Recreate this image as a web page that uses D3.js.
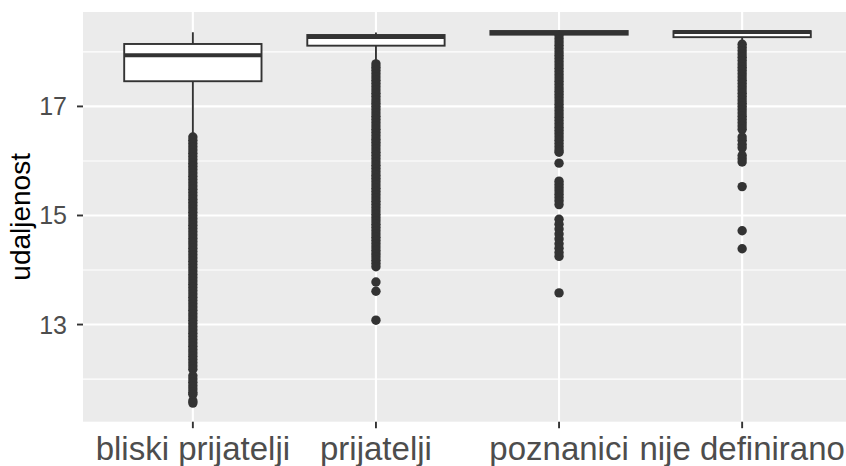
<!DOCTYPE html>
<html><head><meta charset="utf-8">
<script src="https://cdn.jsdelivr.net/npm/d3@7"></script>
<style>body{margin:0;background:#fff} svg{display:block}</style>
</head><body><svg id="c" width="846" height="466"></svg>
<script>
const categories = ["bliski prijatelji", "prijatelji", "poznanici", "nije definirano"];
const whiskerHigh = [18.36, 18.355, 18.39, 18.39];
const q3 = [18.145, 18.31, 18.383, 18.38];
const median = [17.938, 18.273, 18.35, 18.365];
const q1 = [17.462, 18.114, 18.316, 18.27];
const whiskerLow = [16.48, 17.83, 18.30, 18.20];

const outliersBliski = [16.44,16.38,16.32,16.26,16.20,16.14,16.08,16.02,15.96,15.90,15.84,15.78,15.72,15.66,15.60,15.54,15.48,15.42,15.36,15.30,15.24,15.18,15.12,15.06,15.00,14.94,14.88,14.82,14.76,14.70,14.64,14.58,14.52,14.46,14.40,14.34,14.28,14.22,14.16,14.10,14.04,13.98,13.92,13.86,13.80,13.74,13.68,13.62,13.56,13.50,13.44,13.38,13.32,13.26,13.20,13.14,13.08,13.02,12.96,12.90,12.84,12.78,12.72,12.66,12.60,12.54,12.48,12.42,12.36,12.30,12.24,12.18,12.06,12.00,11.94,11.88,11.82,11.76,11.72,11.60,11.56];
const outliersPrijatelji = [17.78,17.72,17.66,17.60,17.54,17.48,17.42,17.36,17.30,17.24,17.18,17.12,17.06,17.00,16.94,16.88,16.82,16.76,16.70,16.64,16.58,16.52,16.46,16.40,16.34,16.28,16.22,16.16,16.10,16.04,15.98,15.92,15.86,15.80,15.74,15.68,15.62,15.56,15.50,15.44,15.38,15.32,15.26,15.20,15.14,15.08,15.02,14.96,14.90,14.84,14.78,14.72,14.66,14.60,14.54,14.48,14.42,14.36,14.30,14.24,14.18,14.12,14.06,13.78,13.61,13.08];
const outliersPoznanici = [18.30,18.24,18.18,18.12,18.06,18.00,17.94,17.88,17.82,17.76,17.70,17.64,17.58,17.52,17.46,17.40,17.34,17.28,17.22,17.16,17.10,17.04,16.98,16.92,16.86,16.80,16.74,16.68,16.62,16.56,16.50,16.44,16.38,16.32,16.26,16.20,16.16,15.96,15.63,15.57,15.51,15.45,15.39,15.33,15.27,15.20,14.93,14.84,14.75,14.66,14.57,14.48,14.40,14.32,14.25,13.58];
const outliersNije = [18.14,18.08,18.02,17.96,17.90,17.84,17.78,17.72,17.66,17.60,17.54,17.48,17.42,17.36,17.30,17.24,17.18,17.12,17.06,17.00,16.94,16.88,16.82,16.76,16.70,16.64,16.58,16.44,16.38,16.30,16.24,16.10,16.04,15.98,15.53,14.72,14.39];
const outliers = [outliersBliski, outliersPrijatelji, outliersPoznanici, outliersNije];

const yTicks = [13, 15, 17];
const yMinorTicks = [12, 14, 16, 18];

const svg = d3.select("#c");
const panel = {left: 83, top: 12, right: 852, bottom: 421.7};

const allVals = outliers.flat().concat(whiskerHigh, whiskerLow);
const [vmin, vmax] = d3.extent(allVals);
const pad = (vmax - vmin) * 0.05;
const y = d3.scaleLinear().domain([vmin - pad, vmax + pad]).range([panel.bottom, panel.top]);
const x = d3.scalePoint().domain(categories).range([panel.left, panel.right]).padding(0.6);
const boxW = x.step() * 0.75;

const grey20 = "#333333";
const font = "Liberation Sans, Arial, sans-serif";

svg.append("rect").attr("x", panel.left).attr("y", panel.top)
  .attr("width", panel.right - panel.left).attr("height", panel.bottom - panel.top)
  .attr("fill", "#EBEBEB");

// minor grid
svg.append("g").selectAll("line").data(yMinorTicks).join("line")
  .attr("x1", panel.left).attr("x2", panel.right)
  .attr("y1", d => y(d)).attr("y2", d => y(d))
  .attr("stroke", "#fff").attr("stroke-width", 1.1);
// major grid
svg.append("g").selectAll("line").data(yTicks).join("line")
  .attr("x1", panel.left).attr("x2", panel.right)
  .attr("y1", d => y(d)).attr("y2", d => y(d))
  .attr("stroke", "#fff").attr("stroke-width", 2.1);
svg.append("g").selectAll("line").data(categories).join("line")
  .attr("x1", d => x(d)).attr("x2", d => x(d))
  .attr("y1", panel.top).attr("y2", panel.bottom)
  .attr("stroke", "#fff").attr("stroke-width", 2.1);

const groups = svg.append("g").selectAll("g").data(categories).join("g");

// outliers
groups.each(function(c, i) {
  d3.select(this).selectAll("circle").data(outliers[i]).join("circle")
    .attr("cx", x(c)).attr("cy", v => y(v)).attr("r", 4.7).attr("fill", grey20);
});
// whiskers
groups.append("line")
  .attr("x1", d => x(d)).attr("x2", d => x(d))
  .attr("y1", (d, i) => y(whiskerHigh[i])).attr("y2", (d, i) => y(q3[i]))
  .attr("stroke", grey20).attr("stroke-width", 1.9);
groups.append("line")
  .attr("x1", d => x(d)).attr("x2", d => x(d))
  .attr("y1", (d, i) => y(q1[i])).attr("y2", (d, i) => y(whiskerLow[i]))
  .attr("stroke", grey20).attr("stroke-width", 1.9);
// boxes
groups.append("rect")
  .attr("x", d => x(d) - boxW / 2).attr("width", boxW)
  .attr("y", (d, i) => y(q3[i])).attr("height", (d, i) => y(q1[i]) - y(q3[i]))
  .attr("fill", "#fff").attr("stroke", grey20).attr("stroke-width", 1.9);
groups.append("line")
  .attr("x1", d => x(d) - boxW / 2).attr("x2", d => x(d) + boxW / 2)
  .attr("y1", (d, i) => y(median[i])).attr("y2", (d, i) => y(median[i]))
  .attr("stroke", grey20).attr("stroke-width", 3.8);

// y axis
const ya = svg.append("g");
ya.selectAll("line").data(yTicks).join("line")
  .attr("x1", panel.left - 6).attr("x2", panel.left)
  .attr("y1", d => y(d)).attr("y2", d => y(d))
  .attr("stroke", grey20).attr("stroke-width", 1.9);
ya.selectAll("text").data(yTicks).join("text")
  .attr("x", panel.left - 16).attr("y", d => y(d))
  .attr("dy", "0.36em").attr("text-anchor", "end")
  .attr("font-family", font).attr("font-size", 25)
  .attr("fill", "#4D4D4D").text(d => d);

// x axis
const xa = svg.append("g");
xa.selectAll("line").data(categories).join("line")
  .attr("x1", d => x(d)).attr("x2", d => x(d))
  .attr("y1", panel.bottom).attr("y2", panel.bottom + 6.5)
  .attr("stroke", grey20).attr("stroke-width", 1.9);
xa.selectAll("text").data(categories).join("text")
  .attr("x", d => x(d)).attr("y", 460)
  .attr("text-anchor", "middle")
  .attr("font-family", font).attr("font-size", 33)
  .attr("fill", "#4D4D4D").text(d => d);

// y title
svg.append("text")
  .attr("transform", `translate(30,${(panel.top + panel.bottom) / 2}) rotate(-90)`)
  .attr("text-anchor", "middle")
  .attr("font-family", font).attr("font-size", 28)
  .attr("fill", "#000").text("udaljenost");
</script></body></html>
